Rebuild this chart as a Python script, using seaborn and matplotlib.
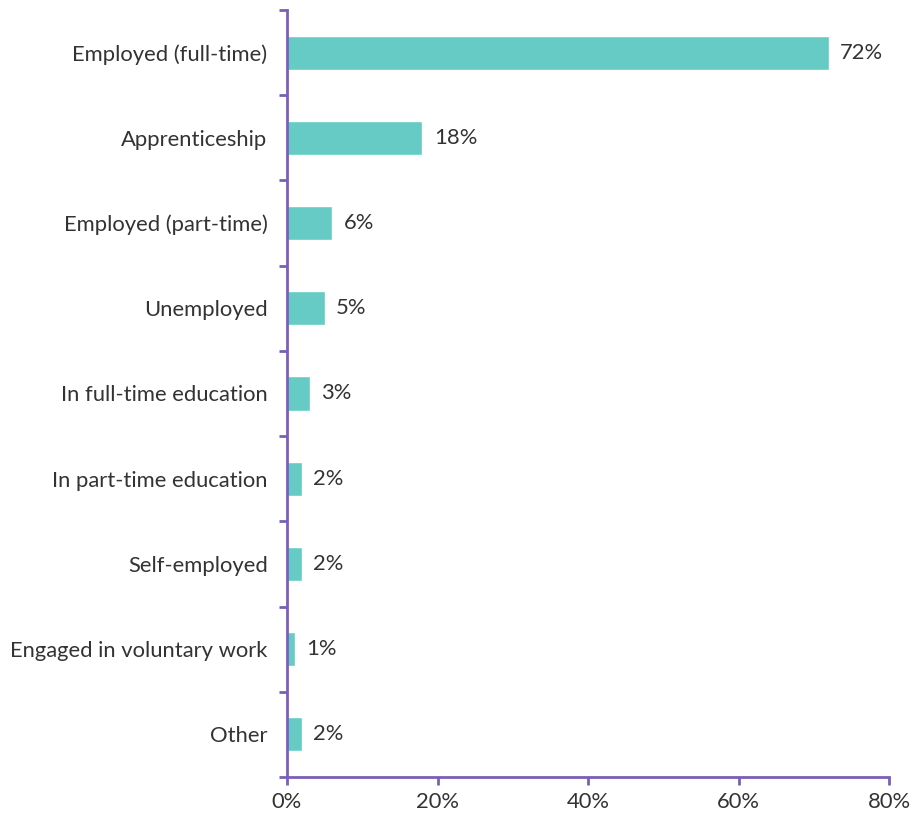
import matplotlib
matplotlib.use("Agg")
import matplotlib.pyplot as plt
import seaborn as sns
import pandas as pd
import numpy as np

categories = [
    "Employed (full-time)",
    "Apprenticeship",
    "Employed (part-time)",
    "Unemployed",
    "In full-time education",
    "In part-time education",
    "Self-employed",
    "Engaged in voluntary work",
    "Other",
]
values = [72, 18, 6, 5, 3, 2, 2, 1, 2]
xticks = [0, 20, 40, 60, 80]

bar_color = "#66CBC4"
axis_color = "#7A5FB8"
text_color = "#333333"
fsize = 15.8

sns.set_theme(style="white")
plt.rcParams["font.family"] = ["Lato", "DejaVu Sans"]

df = pd.DataFrame({"category": categories, "value": values})

fig = plt.figure(figsize=(9.16, 8.14), dpi=100)
ax = fig.add_axes([287 / 916, 1 - 777 / 814, (889 - 287) / 916, (777 - 10) / 814])

sns.barplot(data=df, x="value", y="category", orient="h", color=bar_color,
            width=0.4, saturation=1, ax=ax)

for i, v in enumerate(values):
    ax.text(v + 1.5, i, f"{v}%", va="center", ha="left", fontsize=fsize,
            color=text_color)

ax.set_xlim(0, 80)
ax.set_ylim(len(categories) - 0.5, -0.5)
ax.set_xticks(xticks)
ax.set_xticklabels([f"{t}%" for t in xticks])
ax.set_xlabel("")
ax.set_ylabel("")

# category labels at bar centres, separator ticks between categories
ax.set_yticks(range(len(categories)))
ax.set_yticklabels(categories)
ax.set_yticks(np.arange(len(categories) + 1) - 0.5, minor=True)
ax.tick_params(axis="y", which="major", length=0, pad=14, labelsize=fsize,
               labelcolor=text_color)
ax.tick_params(axis="y", which="minor", length=6, width=2, color=axis_color,
               left=True, direction="out")
ax.tick_params(axis="x", which="major", length=6, width=2, color=axis_color,
               bottom=True, direction="out", pad=5, labelsize=fsize,
               labelcolor=text_color)

for side in ("top", "right"):
    ax.spines[side].set_visible(False)
for side in ("left", "bottom"):
    ax.spines[side].set_color(axis_color)
    ax.spines[side].set_linewidth(2)

fig.savefig("out.png", dpi=100)
